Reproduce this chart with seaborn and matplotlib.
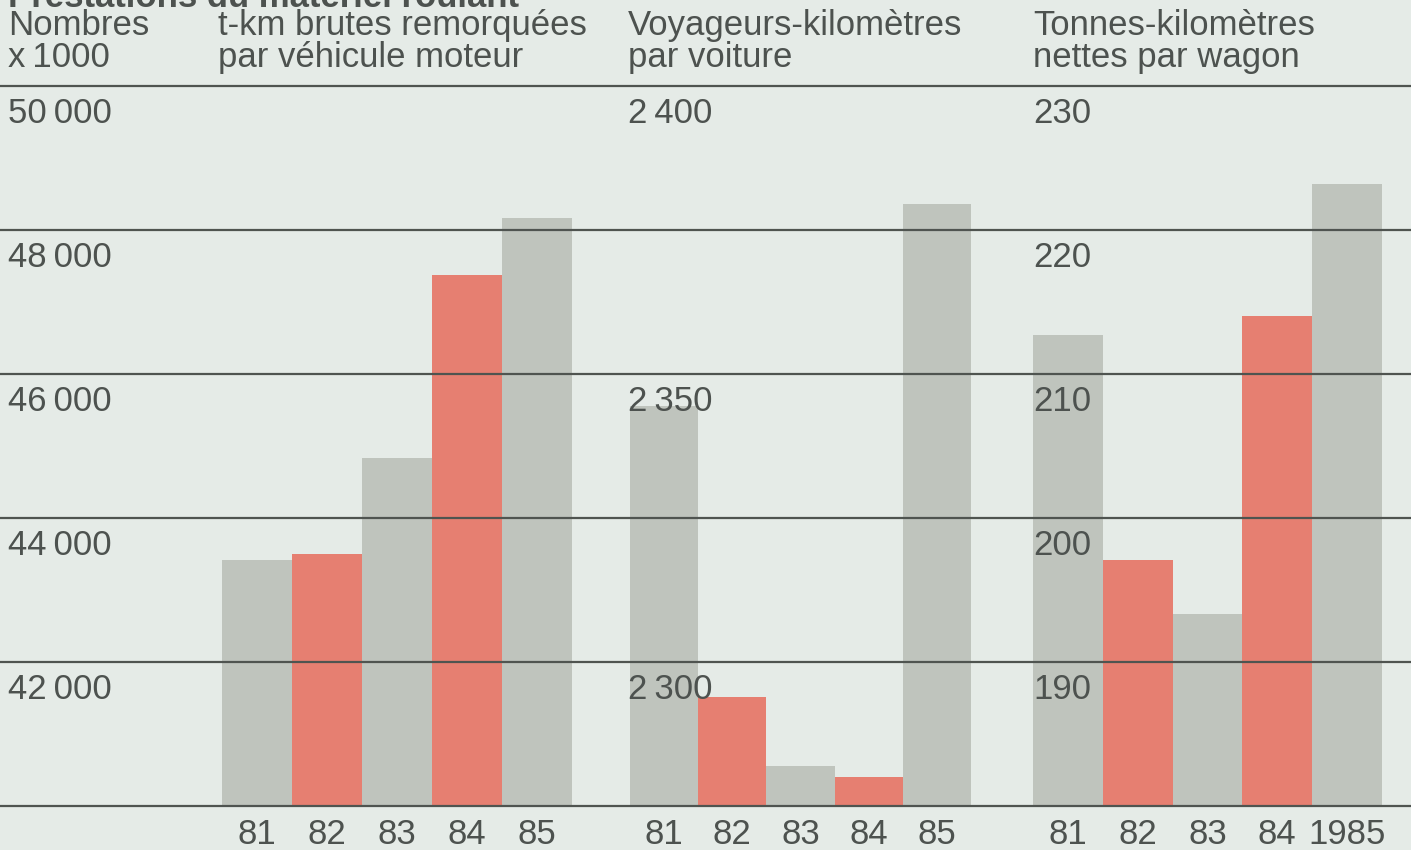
import matplotlib
matplotlib.use("Agg")
import matplotlib.pyplot as plt
import matplotlib.transforms as mtransforms
import seaborn as sns

# values
years = ["81", "82", "83", "84", "85"]
years_last = ["81", "82", "83", "84", "1985"]

tkm_brutes = [43420, 43500, 44830, 47370, 48160]
voy_km = [2344.5, 2294, 2282, 2280, 2379.5]
tonnes_km = [212.7, 197.1, 193.3, 214.0, 223.2]

ticks_tkm = [50000, 48000, 46000, 44000, 42000]
ticks_tkm_lbl = ["50\u2009000", "48\u2009000", "46\u2009000", "44\u2009000", "42\u2009000"]
ticks_voy = [2400, 2350, 2300]
ticks_voy_lbl = ["2\u2009400", "2\u2009350", "2\u2009300"]
ticks_ton = [230, 220, 210, 200, 190]
ticks_ton_lbl = ["230", "220", "210", "200", "190"]

headers = ["Nombres\nx\u20091000",
           "t-km brutes remorquées\npar véhicule moteur",
           "Voyageurs-kilomètres\npar voiture",
           "Tonnes-kilomètres\nnettes par wagon"]
title = "Prestations du matériel roulant"

BG = "#e5ebe7"
GREY = "#bfc4bd"
RED = "#e67f71"
TXT = "#4d524f"
LINE = "#4f5450"
bar_colors = [GREY, RED, GREY, RED, GREY]

sns.set_theme(style="white")
plt.rcParams["font.family"] = ["Liberation Sans", "DejaVu Sans"]
FS = 25

W, H = 1411, 850
fig = plt.figure(figsize=(W / 100, H / 100), dpi=100, facecolor=BG)

# plot area in pixels: lines from y=86 (top) to y=806 (bottom)
y_top, y_bot = 86, 806
bottom = (H - y_bot) / H
height = (y_bot - y_top) / H

panels = [
    (222, 572, tkm_brutes, years, (40000, 50000), ticks_tkm, ticks_tkm_lbl, 8),
    (630, 971, voy_km, years, (2275, 2400), ticks_voy, ticks_voy_lbl, 628),
    (1033, 1382, tonnes_km, years_last, (180, 230), ticks_ton, ticks_ton_lbl, 1033),
]

for x0, x1, vals, labels, ylim, tks, tk_lbls, lbl_x in panels:
    ax = fig.add_axes([x0 / W, bottom, (x1 - x0) / W, height])
    ax.set_facecolor("none")
    sns.barplot(x=labels, y=vals, hue=labels, palette=bar_colors, width=1.0,
                saturation=1, legend=False, linewidth=0, edgecolor="none", ax=ax)
    ax.set_xlim(-0.5, 4.5)
    ax.set_ylim(*ylim)
    for s in ax.spines.values():
        s.set_visible(False)
    ax.set_yticks([])
    ax.tick_params(axis="x", length=0, pad=9, labelsize=FS, labelcolor=TXT)
    ax.set_xlabel("")
    ax.set_ylabel("")
    # value labels sit just under their line
    trans = mtransforms.blended_transform_factory(fig.transFigure, ax.transData)
    trans = mtransforms.offset_copy(trans, fig=fig, y=-11, units="dots")
    for v, t in zip(tks, tk_lbls):
        ax.text(lbl_x / W, v, t, transform=trans, ha="left", va="top",
                fontsize=FS, color=TXT, zorder=5)

# horizontal rules across the full width, on top of the bars
ax_lines = fig.add_axes([0, bottom, 1, height])
ax_lines.set_facecolor("none")
ax_lines.set_xlim(0, 1)
ax_lines.set_ylim(40000, 50000)
ax_lines.axis("off")
for v in [50000, 48000, 46000, 44000, 42000, 40000]:
    ax_lines.axhline(v, color=LINE, lw=1.6, clip_on=False)

# column headers
for x, h in zip([8, 218, 628, 1033], headers):
    fig.text(x / W, 1 - 9 / H, h, ha="left", va="top", fontsize=FS,
             color=TXT, linespacing=0.95)

# title, cut off at the top edge like the scan
fig.text(8 / W, 1 - 7 / H, title, ha="left", va="baseline", fontsize=FS,
         fontweight="bold", color=TXT)

fig.savefig("out.png", dpi=100, facecolor=BG)
